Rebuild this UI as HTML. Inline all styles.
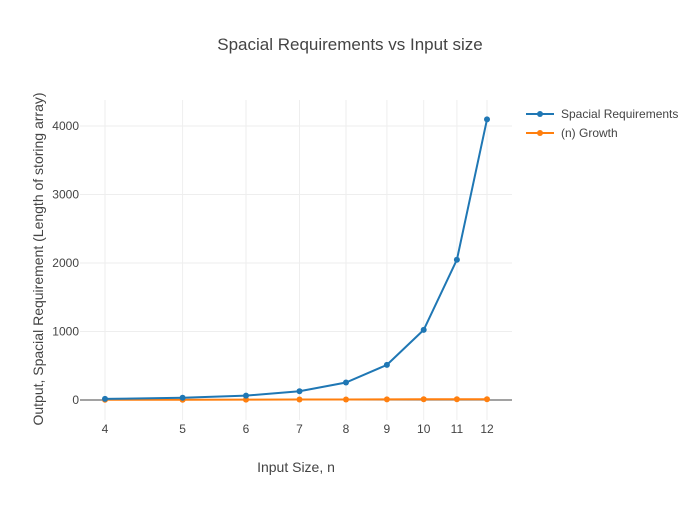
<!DOCTYPE html>
<html><head><meta charset="utf-8"><style>
body{margin:0;background:#fff}
text{font-family:"Liberation Sans",sans-serif;fill:#444}
</style></head><body>
<svg width="700" height="500" xmlns="http://www.w3.org/2000/svg">
<rect width="700" height="500" fill="#fff"/>
<g stroke="#eee" stroke-width="1">
<line x1="80" x2="512" y1="126" y2="126"/>
<line x1="80" x2="512" y1="194.5" y2="194.5"/>
<line x1="80" x2="512" y1="263" y2="263"/>
<line x1="80" x2="512" y1="331.5" y2="331.5"/>
<line x1="105" x2="105" y1="100" y2="420"/>
<line x1="182.6" x2="182.6" y1="100" y2="420"/>
<line x1="246" x2="246" y1="100" y2="420"/>
<line x1="299.5" x2="299.5" y1="100" y2="420"/>
<line x1="346" x2="346" y1="100" y2="420"/>
<line x1="386.9" x2="386.9" y1="100" y2="420"/>
<line x1="423.7" x2="423.7" y1="100" y2="420"/>
<line x1="456.9" x2="456.9" y1="100" y2="420"/>
<line x1="487" x2="487" y1="100" y2="420"/>
</g>
<line x1="80" x2="512" y1="400" y2="400" stroke="#444" stroke-width="1"/>
<g font-size="12" text-anchor="middle">
<text x="105" y="433">4</text><text x="182.6" y="433">5</text><text x="246" y="433">6</text>
<text x="299.5" y="433">7</text><text x="346" y="433">8</text><text x="386.9" y="433">9</text>
<text x="423.7" y="433">10</text><text x="456.9" y="433">11</text><text x="487" y="433">12</text>
</g>
<g font-size="12" text-anchor="end">
<text x="79" y="404">0</text><text x="79" y="335.5">1000</text><text x="79" y="267">2000</text>
<text x="79" y="198.5">3000</text><text x="79" y="130">4000</text>
</g>
<text x="350" y="50" font-size="17" text-anchor="middle">Spacial Requirements vs Input size</text>
<text x="296" y="472" font-size="14" text-anchor="middle">Input Size, n</text>
<text transform="translate(43,259) rotate(-90)" font-size="14" text-anchor="middle">Output, Spacial Requirement (Length of storing array)</text>
<polyline fill="none" stroke="#ff7f0e" stroke-width="2" points="105,399.7 182.6,399.7 246,399.6 299.5,399.5 346,399.5 386.9,399.4 423.7,399.3 456.9,399.2 487,399.2"/>
<g fill="#ff7f0e">
<circle cx="105" cy="399.7" r="3"/><circle cx="182.6" cy="399.7" r="3"/><circle cx="246" cy="399.6" r="3"/>
<circle cx="299.5" cy="399.5" r="3"/><circle cx="346" cy="399.5" r="3"/><circle cx="386.9" cy="399.4" r="3"/>
<circle cx="423.7" cy="399.3" r="3"/><circle cx="456.9" cy="399.2" r="3"/><circle cx="487" cy="399.2" r="3"/>
</g>
<polyline fill="none" stroke="#1f77b4" stroke-width="2" points="105,398.9 182.6,397.8 246,395.6 299.5,391.2 346,382.5 386.9,364.9 423.7,329.9 456.9,259.7 487,119.4"/>
<g fill="#1f77b4">
<circle cx="105" cy="398.9" r="3"/><circle cx="182.6" cy="397.8" r="3"/><circle cx="246" cy="395.6" r="3"/>
<circle cx="299.5" cy="391.2" r="3"/><circle cx="346" cy="382.5" r="3"/><circle cx="386.9" cy="364.9" r="3"/>
<circle cx="423.7" cy="329.9" r="3"/><circle cx="456.9" cy="259.7" r="3"/><circle cx="487" cy="119.4" r="3"/>
</g>
<line x1="526" x2="554" y1="114" y2="114" stroke="#1f77b4" stroke-width="2"/>
<circle cx="540" cy="114" r="3" fill="#1f77b4"/>
<text x="561" y="118" font-size="12">Spacial Requirements</text>
<line x1="526" x2="554" y1="133" y2="133" stroke="#ff7f0e" stroke-width="2"/>
<circle cx="540" cy="133" r="3" fill="#ff7f0e"/>
<text x="561" y="137" font-size="12">(n) Growth</text>
</svg>
</body></html>
